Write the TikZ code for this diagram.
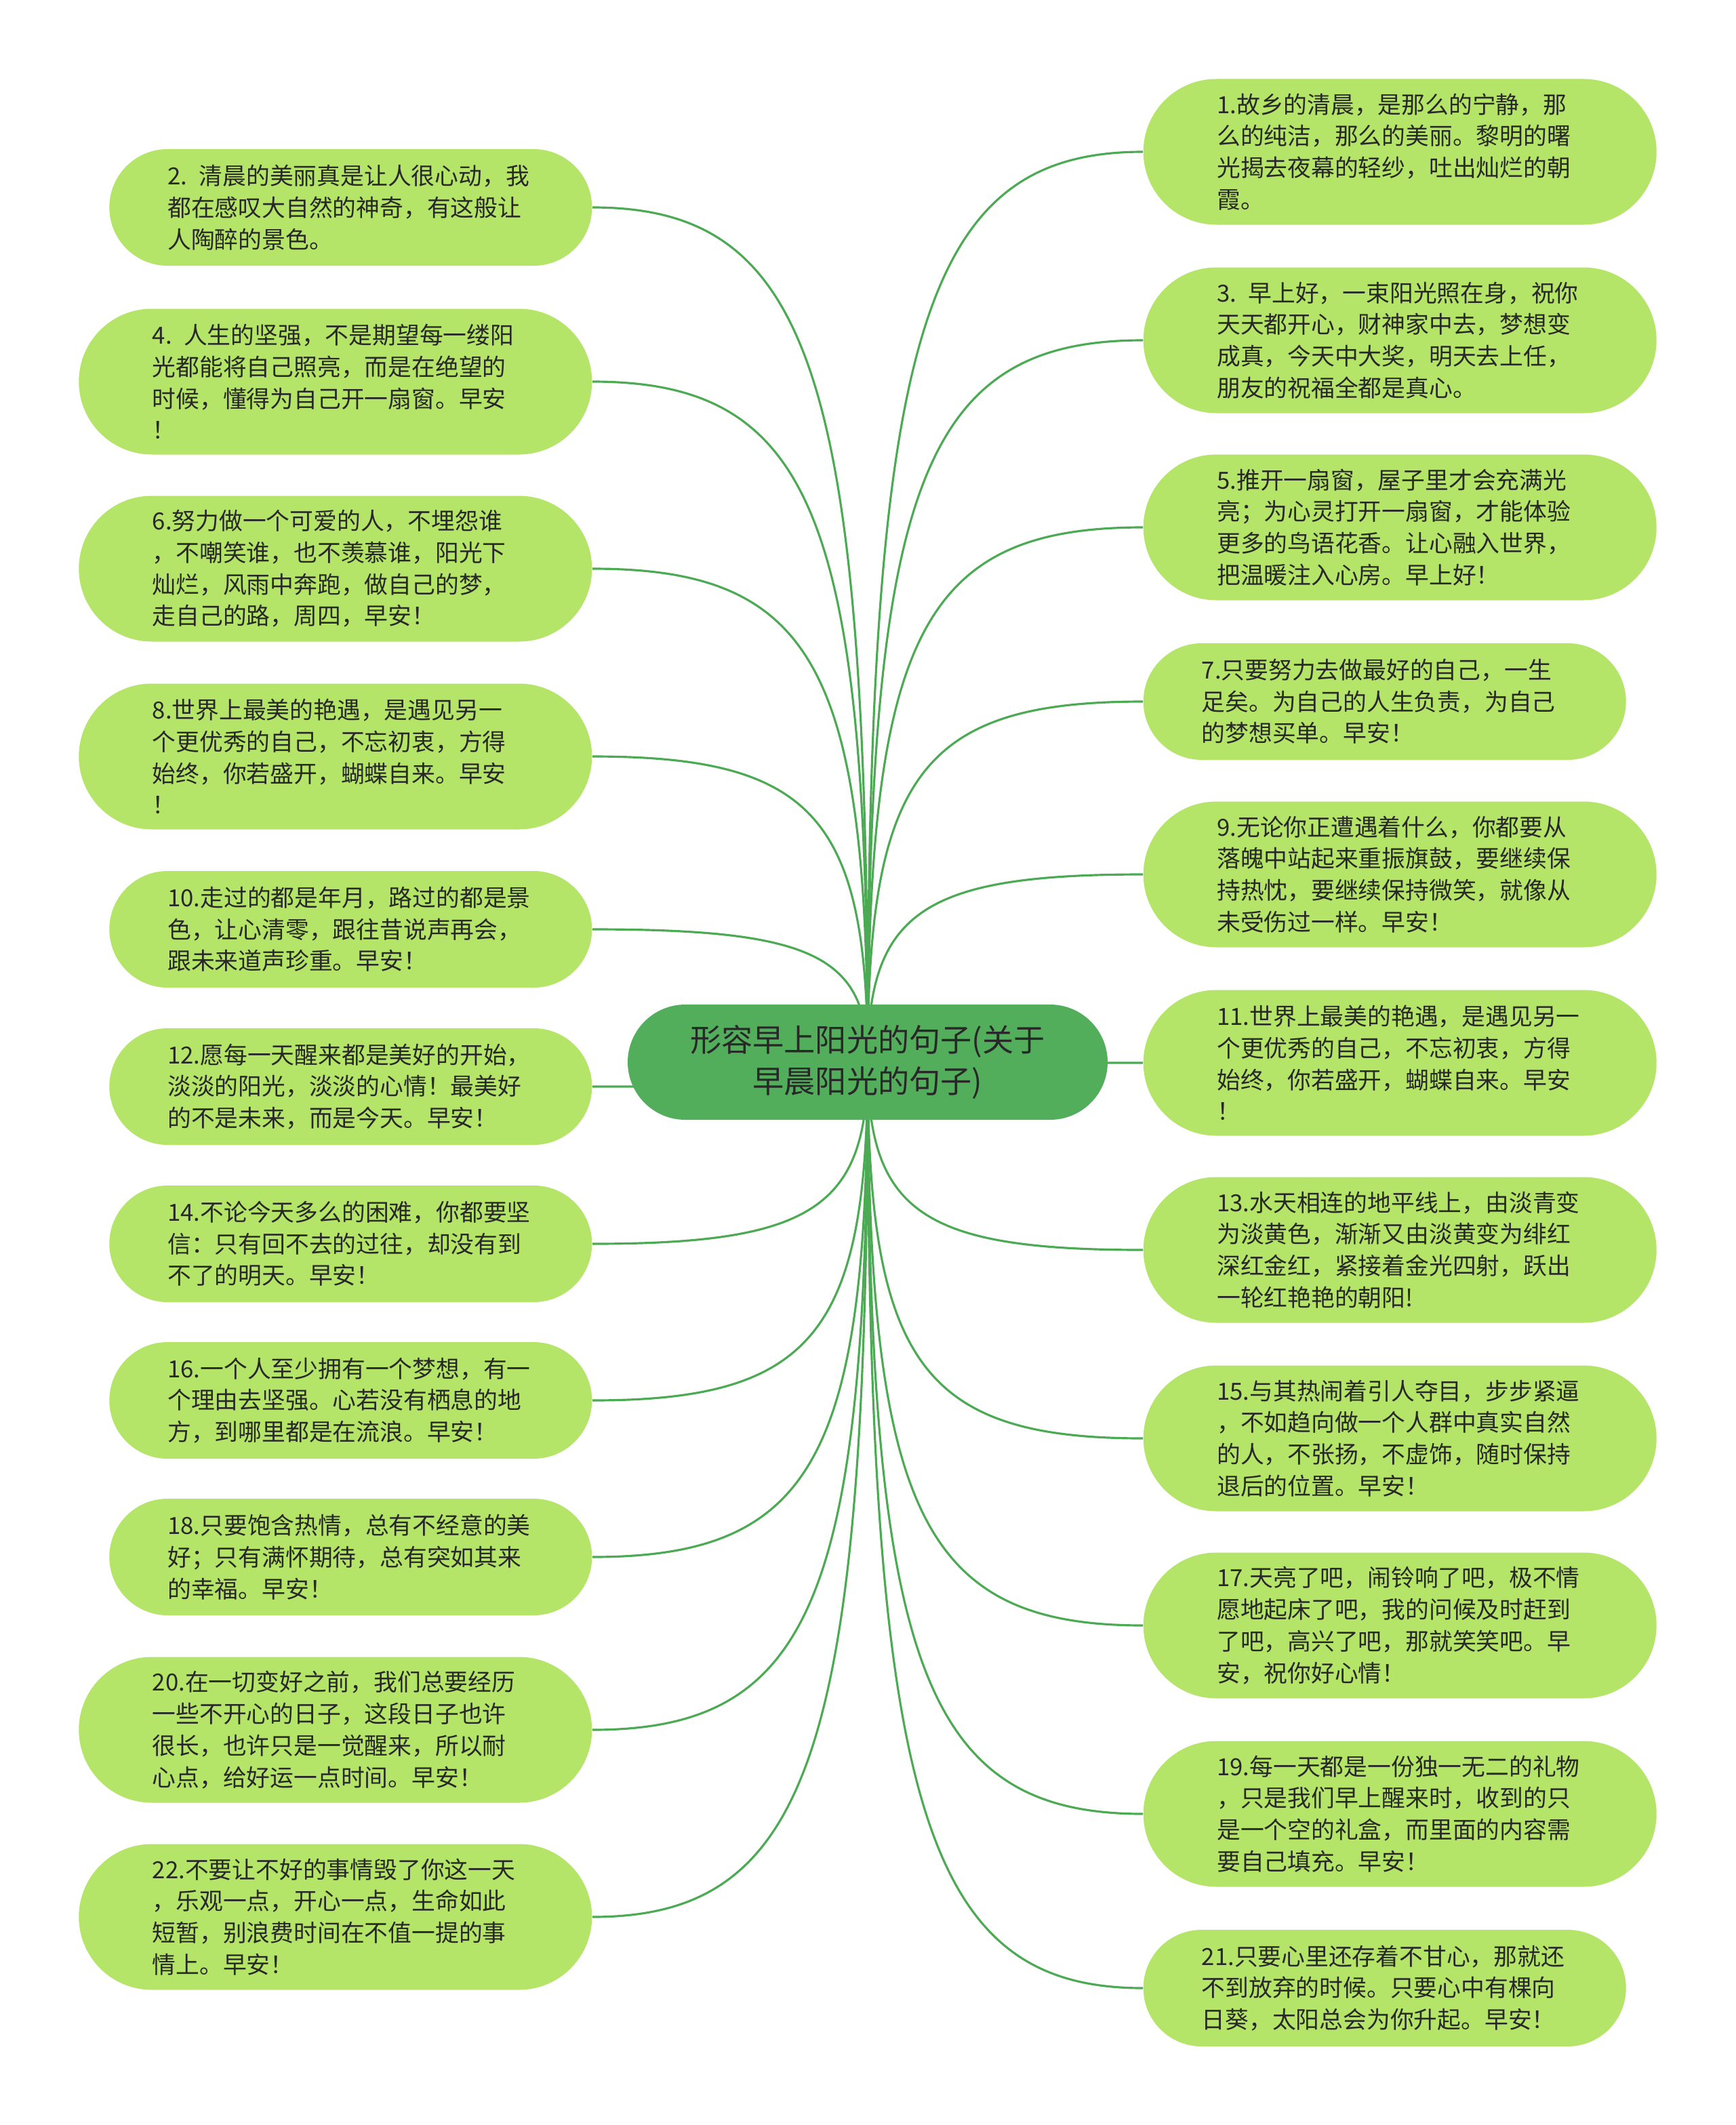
\documentclass[tikz,border=0pt]{standalone}
\usepackage{fontspec}
\setmainfont{Noto Sans CJK SC}
\usepackage{tikz}
\usetikzlibrary{shapes.misc, calc, backgrounds}

\definecolor{rootgreen}{RGB}{83,174,92}
\definecolor{leafgreen}{RGB}{180,228,104}
\definecolor{linkgreen}{RGB}{76,170,84}
\definecolor{inkgray}{RGB}{40,40,40}

\begin{document}
\begin{tikzpicture}[
    leaf/.style={rounded rectangle, fill=leafgreen, text=inkgray, inner xsep=0pt, inner ysep=0pt,
        text width=5.4cm, align=left, minimum width=7.12cm, minimum height=1.72cm,
        font=\fontsize{9.9pt}{13.3pt}\selectfont},
    tall/.style={leaf, minimum width=7.57cm, minimum height=2.15cm},
    root/.style={rounded rectangle, fill=rootgreen, text=inkgray, inner sep=0pt,
        minimum width=7.08cm, minimum height=1.7cm, align=center,
        font=\fontsize{13.15pt}{17.6pt}\selectfont},
    link/.style={draw=linkgreen, line width=0.9pt,
        to path={.. controls ($(\tikztostart)!0.8!(\tikztostart |- \tikztotarget)$)
            and ($(\tikztotarget)!0.8!(\tikztostart |- \tikztotarget)$) .. (\tikztotarget)}}
]
    \useasboundingbox (0,0) rectangle (25.6,-31.35);

    % central topic
    \node[root] (root) at (12.8,-15.67) {形容早上阳光的句子(关于\\早晨阳光的句子)};

    % left branches
    \node[leaf, anchor=east] (l2) at (8.74,-3.06) {2. 清晨的美丽真是让人很心动，我\\都在感叹大自然的神奇，有这般让\\人陶醉的景色。};
    \node[tall, anchor=east] (l4) at (8.74,-5.63) {4. 人生的坚强，不是期望每一缕阳\\光都能将自己照亮，而是在绝望的\\时候，懂得为自己开一扇窗。早安\\！};
    \node[tall, anchor=east] (l6) at (8.74,-8.39) {6.努力做一个可爱的人，不埋怨谁\\，不嘲笑谁，也不羡慕谁，阳光下\\灿烂，风雨中奔跑，做自己的梦，\\走自己的路，周四，早安！};
    \node[tall, anchor=east] (l8) at (8.74,-11.16) {8.世界上最美的艳遇，是遇见另一\\个更优秀的自己，不忘初衷，方得\\始终，你若盛开，蝴蝶自来。早安\\！};
    \node[leaf, anchor=east] (l10) at (8.74,-13.71) {10.走过的都是年月，路过的都是景\\色，让心清零，跟往昔说声再会，\\跟未来道声珍重。早安！};
    \node[leaf, anchor=east] (l12) at (8.74,-16.03) {12.愿每一天醒来都是美好的开始，\\淡淡的阳光，淡淡的心情！最美好\\的不是未来，而是今天。早安！};
    \node[leaf, anchor=east] (l14) at (8.74,-18.35) {14.不论今天多么的困难，你都要坚\\信：只有回不去的过往，却没有到\\不了的明天。早安！};
    \node[leaf, anchor=east] (l16) at (8.74,-20.66) {16.一个人至少拥有一个梦想，有一\\个理由去坚强。心若没有栖息的地\\方，到哪里都是在流浪。早安！};
    \node[leaf, anchor=east] (l18) at (8.74,-22.97) {18.只要饱含热情，总有不经意的美\\好；只有满怀期待，总有突如其来\\的幸福。早安！};
    \node[tall, anchor=east] (l20) at (8.74,-25.52) {20.在一切变好之前，我们总要经历\\一些不开心的日子，这段日子也许\\很长，也许只是一觉醒来，所以耐\\心点，给好运一点时间。早安！};
    \node[tall, anchor=east] (l22) at (8.74,-28.28) {22.不要让不好的事情毁了你这一天\\，乐观一点，开心一点，生命如此\\短暂，别浪费时间在不值一提的事\\情上。早安！};

    % right branches
    \node[tall, anchor=west] (r1) at (16.86,-2.24) {1.故乡的清晨，是那么的宁静，那\\么的纯洁，那么的美丽。黎明的曙\\光揭去夜幕的轻纱，吐出灿烂的朝\\霞。};
    \node[tall, anchor=west] (r3) at (16.86,-5.02) {3. 早上好，一束阳光照在身，祝你\\天天都开心，财神家中去，梦想变\\成真，今天中大奖，明天去上任，\\朋友的祝福全都是真心。};
    \node[tall, anchor=west] (r5) at (16.86,-7.78) {5.推开一扇窗，屋子里才会充满光\\亮；为心灵打开一扇窗，才能体验\\更多的鸟语花香。让心融入世界，\\把温暖注入心房。早上好！};
    \node[leaf, anchor=west] (r7) at (16.86,-10.35) {7.只要努力去做最好的自己，一生\\足矣。为自己的人生负责，为自己\\的梦想买单。早安！};
    \node[tall, anchor=west] (r9) at (16.86,-12.90) {9.无论你正遭遇着什么，你都要从\\落魄中站起来重振旗鼓，要继续保\\持热忱，要继续保持微笑，就像从\\未受伤过一样。早安！};
    \node[tall, anchor=west] (r11) at (16.86,-15.68) {11.世界上最美的艳遇，是遇见另一\\个更优秀的自己，不忘初衷，方得\\始终，你若盛开，蝴蝶自来。早安\\！};
    \node[tall, anchor=west] (r13) at (16.86,-18.44) {13.水天相连的地平线上，由淡青变\\为淡黄色，渐渐又由淡黄变为绯红\\深红金红，紧接着金光四射，跃出\\一轮红艳艳的朝阳!};
    \node[tall, anchor=west] (r15) at (16.86,-21.22) {15.与其热闹着引人夺目，步步紧逼\\，不如趋向做一个人群中真实自然\\的人，不张扬，不虚饰，随时保持\\退后的位置。早安！};
    \node[tall, anchor=west] (r17) at (16.86,-23.98) {17.天亮了吧，闹铃响了吧，极不情\\愿地起床了吧，我的问候及时赶到\\了吧，高兴了吧，那就笑笑吧。早\\安，祝你好心情！};
    \node[tall, anchor=west] (r19) at (16.86,-26.76) {19.每一天都是一份独一无二的礼物\\，只是我们早上醒来时，收到的只\\是一个空的礼盒，而里面的内容需\\要自己填充。早安！};
    \node[leaf, anchor=west] (r21) at (16.86,-29.33) {21.只要心里还存着不甘心，那就还\\不到放弃的时候。只要心中有棵向\\日葵，太阳总会为你升起。早安！};

    % connectors
    \begin{scope}[on background layer]
        \fill[white] (0,0) rectangle (25.6,-31.35);
        \draw[link] (root.center) to (l2.east);
        \draw[link] (root.center) to (l4.east);
        \draw[link] (root.center) to (l6.east);
        \draw[link] (root.center) to (l8.east);
        \draw[link] (root.center) to (l10.east);
        \draw[link] (root.center) to (l12.east);
        \draw[link] (root.center) to (l14.east);
        \draw[link] (root.center) to (l16.east);
        \draw[link] (root.center) to (l18.east);
        \draw[link] (root.center) to (l20.east);
        \draw[link] (root.center) to (l22.east);
        \draw[link] (root.center) to (r1.west);
        \draw[link] (root.center) to (r3.west);
        \draw[link] (root.center) to (r5.west);
        \draw[link] (root.center) to (r7.west);
        \draw[link] (root.center) to (r9.west);
        \draw[link] (root.center) to (r11.west);
        \draw[link] (root.center) to (r13.west);
        \draw[link] (root.center) to (r15.west);
        \draw[link] (root.center) to (r17.west);
        \draw[link] (root.center) to (r19.west);
        \draw[link] (root.center) to (r21.west);
    \end{scope}
\end{tikzpicture}
\end{document}
